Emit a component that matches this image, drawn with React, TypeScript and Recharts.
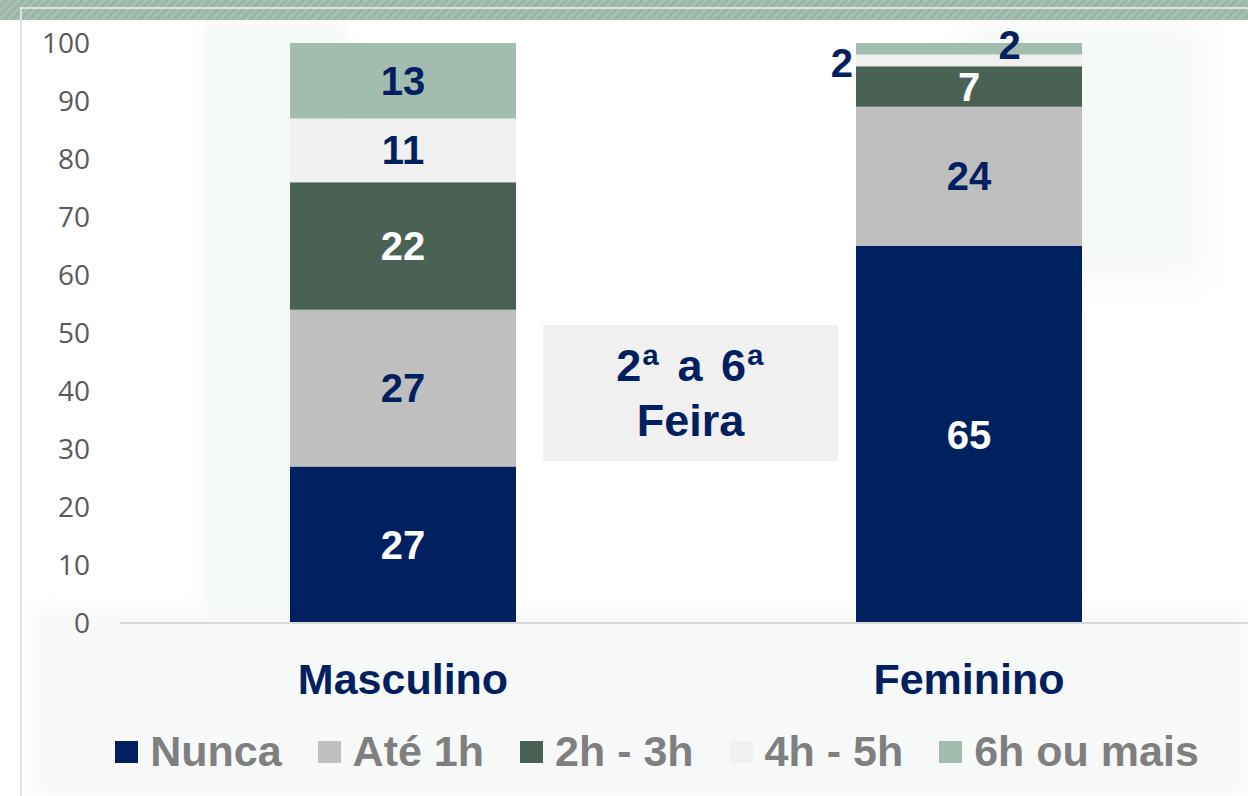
import { BarChart, Bar, XAxis, YAxis, LabelList, Legend } from 'recharts';

const categories = ['Masculino', 'Feminino'];
const nunca = [27, 65];
const ate1h = [27, 24];
const h2a3 = [22, 7];
const h4a5 = [11, 2];
const h6mais = [13, 2];
const yTicks = [0, 10, 20, 30, 40, 50, 60, 70, 80, 90, 100];

const series = [
  { key: 'nunca', name: 'Nunca', color: '#002060', label: '#ffffff' },
  { key: 'ate1h', name: 'Até 1h', color: '#bfbfbf', label: '#002060' },
  { key: 'h2a3', name: '2h - 3h', color: '#4a6253', label: '#ffffff' },
  { key: 'h4a5', name: '4h - 5h', color: '#f0f0f0', label: '#002060' },
  { key: 'h6mais', name: '6h ou mais', color: '#a3bcb0', label: '#002060' },
];

const data = categories.map((c, i) => ({
  name: c,
  nunca: nunca[i],
  ate1h: ate1h[i],
  h2a3: h2a3[i],
  h4a5: h4a5[i],
  h6mais: h6mais[i],
}));

const FONT = '"Liberation Sans", Arial, sans-serif';
const NAVY = '#002060';

const makeLabel = (key: string, color: string) => (props: any) => {
  const { x, y, width, height, value } = props;
  let cx = x + width / 2;
  let anchor: 'middle' | 'end' = 'middle';
  let fill = color;
  let cy = y + height / 2;
  if (height < 20) {
    fill = NAVY;
    if (key === 'h4a5') {
      cx = x - 3;
      anchor = 'end';
      cy += 3;
    } else {
      cx = x + width * 0.68;
      cy -= 4;
    }
  }
  return (
    <text x={cx} y={cy} textAnchor={anchor} dominantBaseline="central"
      fill={fill} fontSize={40} fontWeight="bold" fontFamily={FONT}>
      {value}
    </text>
  );
};

const renderLegend = () => (
  <div style={{ display: 'flex', justifyContent: 'center', alignItems: 'center', gap: 36, fontFamily: FONT, paddingLeft: 66 }}>
    {series.map(s => (
      <div key={s.key} style={{ display: 'flex', alignItems: 'center' }}>
        <span style={{ width: 23, height: 22, background: s.color, display: 'inline-block', marginRight: 12 }} />
        <span style={{ fontSize: 43, fontWeight: 'bold', color: '#7f7f7f' }}>{s.name}</span>
      </div>
    ))}
  </div>
);

export default function App() {
  return (
    <div style={{ position: 'absolute', left: 0, top: 0, width: 1248, height: 796, background: '#ffffff', overflow: 'hidden' }}>
      {/* faint watermark */}
      <div style={{ position: 'absolute', left: 205, top: 20, width: 140, height: 600, background: '#f4f8f6', filter: 'blur(8px)' }} />
      <div style={{ position: 'absolute', left: 965, top: 20, width: 240, height: 260, background: '#f5f9f7', filter: 'blur(18px)' }} />
      <div style={{ position: 'absolute', left: 30, top: 610, width: 1218, height: 186, background: '#f6f9f8', filter: 'blur(10px)' }} />
      {/* top band */}
      <div style={{
        position: 'absolute', left: 0, top: 0, width: 1248, height: 20,
        background: 'repeating-linear-gradient(135deg, #a7beb2 0px, #a7beb2 3px, #9cb4a8 3px, #9cb4a8 6px)',
      }} />
      <div style={{ position: 'absolute', left: 20, top: 7, width: 1228, height: 789, borderLeft: '2px solid #dde3e0', borderTop: '2px solid #dde3e0' }} />
      <div style={{ position: 'absolute', left: 0, top: 0 }}>
        <BarChart width={1248} height={796} data={data} barCategoryGap="30%"
          margin={{ top: 43, right: -4, left: 0, bottom: 113 }}>
          <YAxis type="number" domain={[0, 100]} ticks={yTicks} width={120}
            axisLine={false} tickLine={false} tickMargin={24}
            tick={{ fill: '#595959', fontSize: 28, fontFamily: '"Open Sans", sans-serif' }} />
          <XAxis dataKey="name" height={60} axisLine={{ stroke: '#d9d9d9', strokeWidth: 2 }} tickLine={false}
            tickMargin={34}
            tick={{ fill: NAVY, fontSize: 43, fontWeight: 'bold', fontFamily: FONT }} />
          <Legend verticalAlign="middle" align="center" layout="horizontal" content={renderLegend}
            wrapperStyle={{ top: 727, left: 0, width: 1248 }} />
          {series.map(s => (
            <Bar key={s.key} dataKey={s.key} name={s.name} stackId="a" fill={s.color}
              barSize={226} isAnimationActive={false}>
              <LabelList dataKey={s.key} content={makeLabel(s.key, s.label)} />
            </Bar>
          ))}
        </BarChart>
      </div>
      <div style={{
        position: 'absolute', left: 543, top: 325, width: 295, height: 136, background: '#f0f0f0',
        display: 'flex', alignItems: 'center', justifyContent: 'center', textAlign: 'center',
        color: NAVY, fontFamily: FONT, fontWeight: 'bold', fontSize: 45, lineHeight: '55px',
      }}>
        <div>
          <span style={{ wordSpacing: 4, letterSpacing: 1 }}>2ª a 6ª</span><br />Feira
        </div>
      </div>
    </div>
  );
}
